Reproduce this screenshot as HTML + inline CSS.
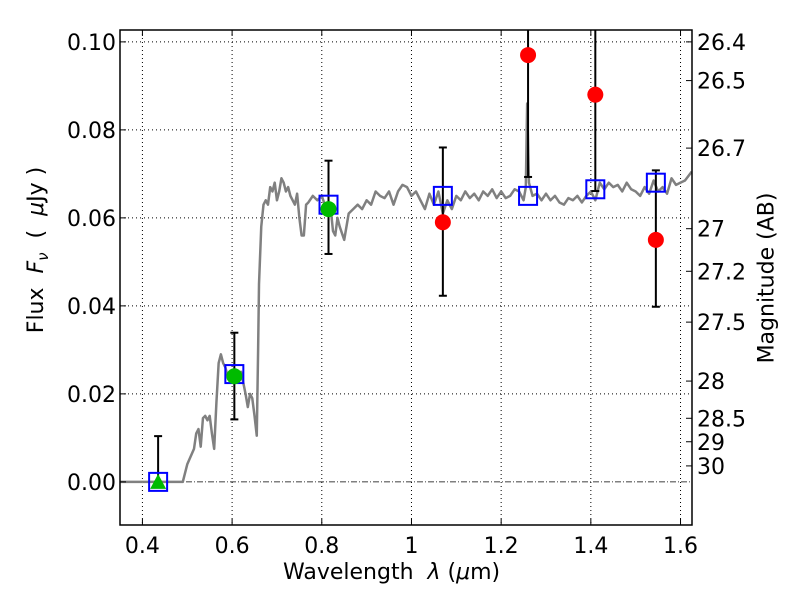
<!DOCTYPE html>
<html><head><meta charset="utf-8"><style>
body{margin:0;background:#fff;}
svg{display:block;font-family:"DejaVu Sans","Liberation Sans",sans-serif;}
</style></head><body>
<svg id="chart" width="800" height="600"></svg>
<script>
const xTicks=[0.4,0.6,0.8,1.0,1.2,1.4,1.6];
const xTickLabels=["0.4","0.6","0.8","1","1.2","1.4","1.6"];
const yTicks=[0,0.02,0.04,0.06,0.08,0.10];
const yTickLabels=["0.00","0.02","0.04","0.06","0.08","0.10"];
const magTicks=[26.4,26.5,26.7,27,27.2,27.5,28,28.5,29,30];
const magLabels=["26.4","26.5","26.7","27","27.2","27.5","28","28.5","29","30"];
const specX=[0.35,0.49,0.50,0.515,0.52,0.525,0.53,0.535,0.54,0.545,0.55,0.555,0.56,0.565,0.57,0.575,0.58,0.585,0.59,0.6,0.61,0.62,0.63,0.635,0.64,0.645,0.65,0.655,0.658,0.66,0.665,0.67,0.675,0.68,0.685,0.69,0.695,0.70,0.705,0.71,0.715,0.72,0.725,0.73,0.74,0.745,0.75,0.755,0.76,0.765,0.77,0.78,0.79,0.80,0.81,0.82,0.825,0.83,0.835,0.84,0.85,0.86,0.87,0.88,0.89,0.90,0.91,0.92,0.93,0.94,0.95,0.96,0.97,0.98,0.99,1.0,1.01,1.02,1.03,1.04,1.05,1.06,1.07,1.08,1.09,1.1,1.11,1.12,1.13,1.14,1.15,1.16,1.17,1.18,1.19,1.2,1.21,1.22,1.23,1.24,1.25,1.255,1.258,1.262,1.27,1.28,1.29,1.3,1.31,1.32,1.33,1.34,1.35,1.36,1.37,1.38,1.39,1.40,1.41,1.42,1.43,1.44,1.45,1.46,1.47,1.48,1.49,1.50,1.51,1.52,1.53,1.54,1.55,1.56,1.57,1.58,1.59,1.60,1.61,1.625];
const specY=[0,0,0.004,0.0075,0.011,0.012,0.008,0.0145,0.015,0.014,0.015,0.011,0.0075,0.018,0.027,0.029,0.027,0.026,0.024,0.025,0.024,0.025,0.02,0.017,0.02,0.019,0.015,0.0105,0.03,0.045,0.058,0.063,0.064,0.063,0.067,0.066,0.068,0.064,0.066,0.069,0.068,0.066,0.067,0.065,0.063,0.0655,0.06,0.056,0.056,0.063,0.0635,0.065,0.064,0.065,0.062,0.062,0.057,0.056,0.06,0.058,0.055,0.061,0.062,0.063,0.062,0.064,0.063,0.066,0.065,0.0645,0.066,0.063,0.066,0.0675,0.067,0.065,0.066,0.064,0.062,0.0655,0.063,0.066,0.061,0.064,0.062,0.065,0.064,0.066,0.0645,0.0655,0.064,0.066,0.065,0.0665,0.0645,0.066,0.0645,0.065,0.0665,0.066,0.064,0.067,0.086,0.068,0.065,0.0655,0.064,0.0655,0.064,0.065,0.0635,0.063,0.0645,0.064,0.065,0.0635,0.065,0.066,0.064,0.068,0.0665,0.068,0.067,0.0675,0.066,0.068,0.0665,0.066,0.065,0.067,0.0655,0.0685,0.066,0.067,0.0655,0.069,0.0675,0.068,0.0685,0.0705];
const modelX=[0.435,0.605,0.815,1.07,1.26,1.41,1.545];
const modelY=[0,0.0245,0.063,0.065,0.065,0.0665,0.068];
const greenX=[0.605,0.815];
const greenY=[0.024,0.062];
const triX=[0.435];
const triY=[0.0];
const redX=[1.07,1.26,1.41,1.545];
const redY=[0.059,0.097,0.088,0.055];
const errX=[0.435,0.605,0.815,1.07,1.26,1.41,1.545];
const errLo=[0,0.0142,0.0518,0.0423,0.0693,0.0661,0.0398];
const errHi=[0.0104,0.0339,0.073,0.076,0.2,0.2,0.0708];

const L=120,R=692,T=30,B=525,XMIN=0.35,XMAX=1.6256,YMIN=-0.0098,YMAX=0.1027;
const sx=v=>L+(v-XMIN)/(XMAX-XMIN)*(R-L);
const sy=v=>B-(v-YMIN)/(YMAX-YMIN)*(B-T);
const svg=document.getElementById('chart');
const NS='http://www.w3.org/2000/svg';
function mk(tag,attrs,parent){const e=document.createElementNS(NS,tag);for(const k in attrs)e.setAttribute(k,attrs[k]);(parent||svg).appendChild(e);return e;}

const clip=mk('clipPath',{id:'pc'});mk('rect',{x:L,y:T,width:R-L,height:B-T},clip);
const grid=mk('g',{stroke:'#000','stroke-width':1,'stroke-dasharray':'1,3'});


xTicks.forEach(v=>mk('line',{x1:sx(v),x2:sx(v),y1:T,y2:B},grid));
yTicks.slice(1).forEach(v=>mk('line',{x1:L,x2:R,y1:sy(v),y2:sy(v)},grid));
const zl=mk('line',{x1:L,x2:R,y1:sy(0),y2:sy(0),stroke:'#000','stroke-width':0.8,'stroke-dasharray':'6,2,1,2'});



const plot=mk('g',{'clip-path':'url(#pc)'});
const sp=mk('polyline',{points:specX.map((x,i)=>sx(x)+','+sy(specY[i])).join(' '),fill:'none',stroke:'#808080','stroke-width':2.5,'stroke-linejoin':'round'},plot);


errX.forEach((x,i)=>{
  const g=mk('g',{stroke:'#000','stroke-width':2},plot);
  
  
  mk('line',{x1:sx(x),x2:sx(x),y1:sy(errLo[i]),y2:sy(errHi[i])},g);
  mk('line',{x1:sx(x)-4,x2:sx(x)+4,y1:sy(errLo[i]),y2:sy(errLo[i])},g);
  mk('line',{x1:sx(x)-4,x2:sx(x)+4,y1:sy(errHi[i]),y2:sy(errHi[i])},g);
});
modelX.forEach((x,i)=>{
  const r=mk('rect',{x:sx(x)-9,y:sy(modelY[i])-9,width:18,height:18,fill:'none',stroke:'#0000ff','stroke-width':2},plot);
  
  
});
greenX.forEach((x,i)=>{
  const c=mk('circle',{cx:sx(x),cy:sy(greenY[i]),r:8,fill:'#00bb00'},plot);
  
  
});
triX.forEach((x,i)=>{
  const X=sx(x),Y=sy(triY[i]);
  const p=mk('polygon',{points:`${X-8},${Y+7} ${X+8},${Y+7} ${X},${Y-8}`,fill:'#00bb00'},plot);
  
  
});
redX.forEach((x,i)=>{
  const c=mk('circle',{cx:sx(x),cy:sy(redY[i]),r:8,fill:'#ff0000'},plot);
  
  
});

const fr=mk('rect',{x:L,y:T,width:R-L,height:B-T,fill:'none',stroke:'#000','stroke-width':1.5});


const tk=mk('g',{stroke:'#000','stroke-width':1});
xTicks.forEach(v=>{mk('line',{x1:sx(v),x2:sx(v),y1:B,y2:B-6},tk);mk('line',{x1:sx(v),x2:sx(v),y1:T,y2:T+6},tk);});
yTicks.forEach(v=>mk('line',{x1:L,x2:L+6,y1:sy(v),y2:sy(v)},tk));
const magY=m=>sy(Math.pow(10,-0.4*(m-23.9)));
magTicks.forEach(m=>mk('line',{x1:R,x2:R-6,y1:magY(m),y2:magY(m)},tk));

xTicks.forEach((v,i)=>{const t=mk('text',{x:sx(v),y:B+28,'text-anchor':'middle','font-size':22});t.textContent=xTickLabels[i];
});
yTicks.forEach((v,i)=>{const t=mk('text',{x:L-4,y:sy(v)+8,'text-anchor':'end','font-size':22});t.textContent=yTickLabels[i];
});
magTicks.forEach((m,i)=>{const t=mk('text',{x:R+5,y:magY(m)+8,'font-size':22});t.textContent=magLabels[i];
});
</script>
<div style="position:absolute;left:0;top:0;width:800px;height:600px;pointer-events:none;font-family:'DejaVu Sans','Liberation Sans',sans-serif;">
<div style="position:absolute;left:283px;top:560px;font-size:22px;white-space:nowrap;">Wavelength&nbsp; <i>λ</i> (<i>μ</i>m)</div>
<div style="position:absolute;left:38px;top:250px;font-size:22px;white-space:nowrap;transform:translate(-50%,-50%) rotate(-90deg);transform-origin:center;">Flux&nbsp; <i>F<sub style="font-size:15px">ν</sub></i>&nbsp; (&nbsp; <i>μ</i>Jy )</div>
<div style="position:absolute;left:767px;top:278px;font-size:22px;white-space:nowrap;transform:translate(-50%,-50%) rotate(-90deg);">Magnitude (AB)</div>
</div>
</body></html>
